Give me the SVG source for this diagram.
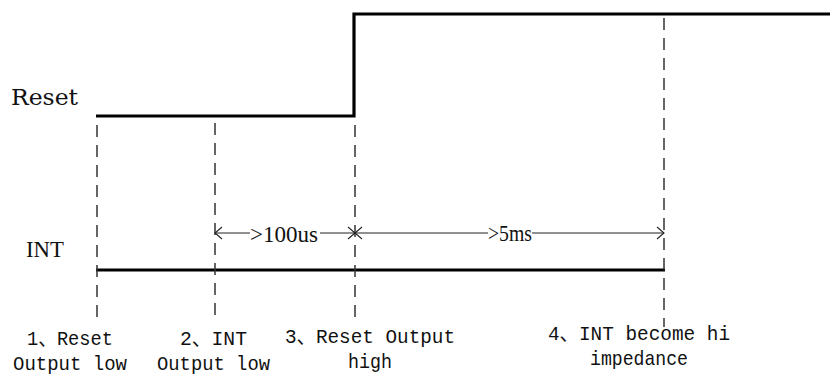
<svg xmlns="http://www.w3.org/2000/svg" width="830" height="376" viewBox="0 0 830 376">
<style>
.sig{fill:none;stroke:#000;stroke-width:3.2}
.dash{fill:none;stroke:#333;stroke-width:1.5;stroke-dasharray:12 8}
.dim{fill:none;stroke:#222;stroke-width:1.1}
.lbl{font-family:"Liberation Mono","Noto Sans CJK SC",monospace;font-size:21px;fill:#111}
.dtxt{font-family:"Liberation Serif",serif;font-size:23px;fill:#111}
</style>
<rect width="830" height="376" fill="#fff"/>
<g id="reset-signal">
<text x="11" y="105" font-family="DejaVu Serif, serif" font-size="22" fill="#111" textLength="67" lengthAdjust="spacingAndGlyphs">Reset</text>
<polyline class="sig" points="96,116 354,116 354,14 830,14"/>
</g>
<g id="int-signal">
<text x="26" y="257" class="dtxt" font-size="24" textLength="38" lengthAdjust="spacingAndGlyphs">INT</text>
<line class="sig" x1="96" y1="270" x2="665" y2="270"/>
</g>
<g id="markers">
<line class="dash" x1="97" y1="125" x2="97" y2="320"/>
<line class="dash" x1="215" y1="123" x2="215" y2="322"/>
<line class="dash" x1="355" y1="125" x2="355" y2="318"/>
<line class="dash" x1="664" y1="18" x2="664" y2="327"/>
</g>
<g id="connectors">
<line class="dim" x1="215" y1="233" x2="250" y2="233"/>
<polyline class="dim" points="222,227 215,233 222,239"/>
<line class="dim" x1="320" y1="233" x2="488" y2="233"/>
<polyline class="dim" points="348,227 355,233 348,239"/>
<polyline class="dim" points="362,227 355,233 362,239"/>
<line class="dim" x1="532" y1="233" x2="664" y2="233"/>
<polyline class="dim" points="657,227 664,233 657,239"/>
<text x="250" y="242" class="dtxt" textLength="68" lengthAdjust="spacingAndGlyphs">&gt;100us</text>
<text x="488" y="241" class="dtxt" textLength="44" lengthAdjust="spacingAndGlyphs">&gt;5ms</text>
</g>
<g id="label-1">
<text x="27" y="345" class="lbl" textLength="86" lengthAdjust="spacingAndGlyphs">1、Reset</text>
<text x="13" y="370" class="lbl" textLength="114" lengthAdjust="spacingAndGlyphs">Output low</text>
</g>
<g id="label-2">
<text x="180" y="345" class="lbl" textLength="67" lengthAdjust="spacingAndGlyphs">2、INT</text>
<text x="157" y="370" class="lbl" textLength="113" lengthAdjust="spacingAndGlyphs">Output low</text>
</g>
<g id="label-3">
<text x="285" y="343" class="lbl" textLength="170" lengthAdjust="spacingAndGlyphs">3、Reset Output</text>
<text x="348" y="368" class="lbl" textLength="44" lengthAdjust="spacingAndGlyphs">high</text>
</g>
<g id="label-4">
<text x="548" y="340" class="lbl" textLength="182" lengthAdjust="spacingAndGlyphs">4、INT become hi</text>
<text x="590" y="365" class="lbl" textLength="98" lengthAdjust="spacingAndGlyphs">impedance</text>
</g>
</svg>
